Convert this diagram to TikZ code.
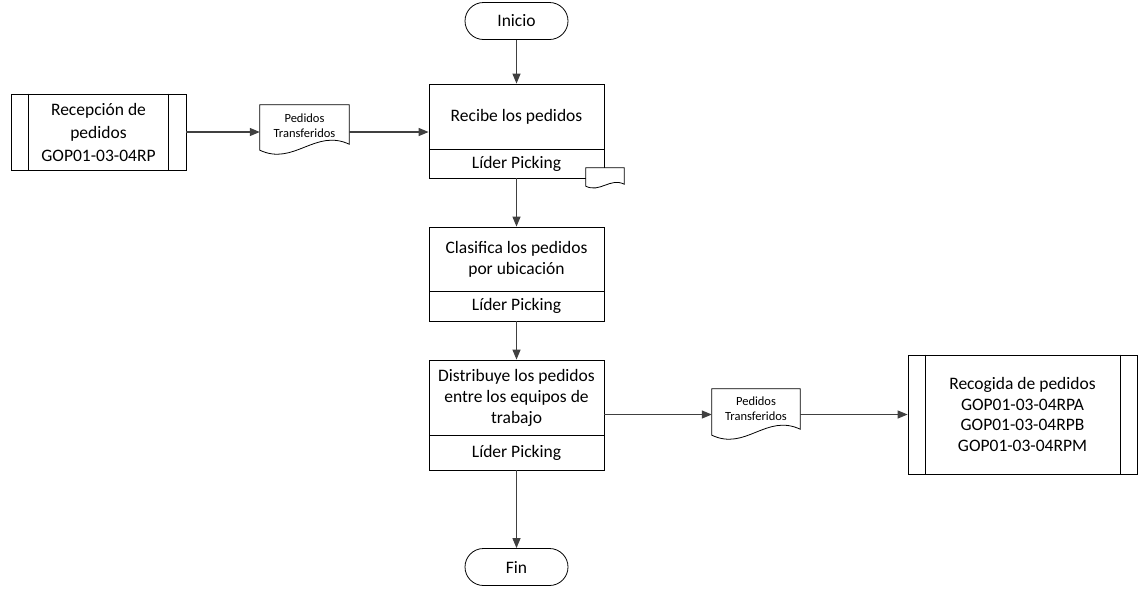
\documentclass[tikz,border=0pt]{standalone}
\usepackage{fontspec}
\setmainfont{Carlito}
\usetikzlibrary{arrows.meta,calc}
\newcommand\docpath[4]{\draw[docline] (#1.north west) -- (#1.north east) -- ([yshift=#4]#1.south east) .. controls +(-#2,-#3) and +(#2,#3) .. (#1.south west) -- cycle;}
\begin{document}
\begin{tikzpicture}[x=1pt,y=-1pt,
  big/.style={font=\fontsize{17.5}{21}\selectfont},
  small/.style={font=\fontsize{12.5}{15}\selectfont},
  box/.style={draw=black, line width=0.8pt, minimum width=175pt, align=center, inner sep=0pt, big},
  term/.style={draw=black, line width=0.8pt, minimum width=103pt, minimum height=37pt, rounded corners=18.5pt, inner sep=0pt, big},
  proc/.style={draw=black, line width=0.8pt, align=center, inner sep=0pt, big},
  docnode/.style={inner sep=0pt, align=center, small},
  docline/.style={draw=black, line width=0.8pt, fill=white},
  arr/.style={draw=black!75, line width=1.2pt, -{Triangle[length=10pt,width=8pt]}}
]
\useasboundingbox (0,0) rectangle (1140,590);

\node[term] (inicio) at (516.5,21) {Inicio};
\node[term] (fin) at (516.5,567) {Fin};

\node[box, minimum height=65pt] (task1) at (516.5,116.5) {Recibe los pedidos};
\node[box, minimum height=29pt] (role1) at (516.5,163.5) {Líder Picking};
\node[box, minimum height=64pt] (task2) at (516.5,259) {Clasifica los pedidos\\por ubicación};
\node[box, minimum height=30pt] (role2) at (516.5,306) {Líder Picking};
\node[box, minimum height=75pt] (task3) at (516.5,397.5) {Distribuye los pedidos\\entre los equipos de\\trabajo};
\node[box, minimum height=35pt] (role3) at (516.5,452.5) {Líder Picking};

\node[proc, minimum width=175pt, minimum height=76pt, font=\fontsize{17.5}{23}\selectfont] (recep) at (98.5,132) {Recepción de\\pedidos\\GOP01-03-04RP};
\draw[line width=0.8pt] ([xshift=18pt]recep.north west) -- ([xshift=18pt]recep.south west);
\draw[line width=0.8pt] ([xshift=-18pt]recep.north east) -- ([xshift=-18pt]recep.south east);

\node[proc, minimum width=229pt, minimum height=119pt, font=\fontsize{17.5}{20.5}\selectfont] (recog) at (1022.5,414.5) {Recogida de pedidos\\GOP01-03-04RPA\\GOP01-03-04RPB\\GOP01-03-04RPM};
\draw[line width=0.8pt] ([xshift=18pt]recog.north west) -- ([xshift=18pt]recog.south west);
\draw[line width=0.8pt] ([xshift=-17pt]recog.north east) -- ([xshift=-17pt]recog.south east);

\node[docnode, minimum width=89pt, minimum height=45pt] (doc1) at (304.5,127.5) {};
\docpath{doc1}{34}{16}{6pt}
\node[docnode] at ([yshift=2pt]doc1) {Pedidos\\Transferidos};

\node[docnode, minimum width=88pt, minimum height=46pt] (doc2) at (756,412) {};
\docpath{doc2}{34}{16}{6pt}
\node[docnode] at ([yshift=3pt]doc2) {Pedidos\\Transferidos};

\node[docnode, minimum width=38pt, minimum height=18pt] (sdoc) at (605,177) {};
\docpath{sdoc}{14}{7}{2pt}

\draw[arr] (inicio) -- (task1);
\draw[arr] (role1) -- (task2);
\draw[arr] (role2) -- (task3);
\draw[arr] (role3) -- (fin);
\draw[arr] (recep) -- (recep -| doc1.west);
\draw[arr] (recep -| doc1.east) -- (recep -| task1.west);
\draw[arr] (recog -| task3.east) -- (recog -| doc2.west);
\draw[arr] (recog -| doc2.east) -- (recog);
\end{tikzpicture}
\end{document}
